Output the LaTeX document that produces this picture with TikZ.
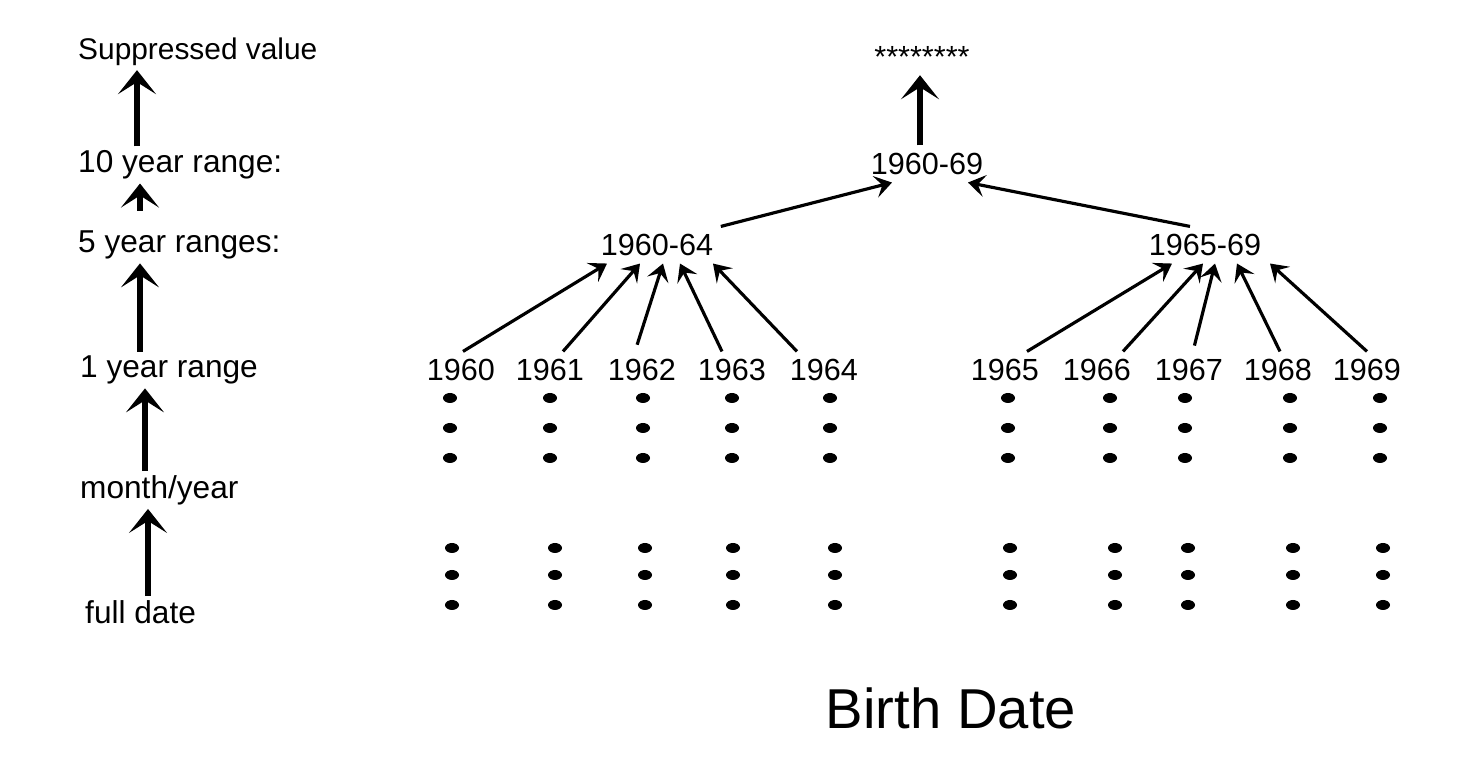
\documentclass[tikz,border=0pt]{standalone}
\usepackage{fontspec}
\setmainfont{Liberation Sans}
\usetikzlibrary{arrows.meta,positioning}

\begin{document}
\begin{tikzpicture}[
    lvl/.style={anchor=west, font=\fontsize{9}{10}\selectfont, inner sep=1pt},
    yr/.style={font=\fontsize{8.7}{10}\selectfont, inner sep=2pt},
    lvlarrow/.style={-{Stealth[length=2.4mm, width=3.8mm, inset=1.2mm]}, line width=1.7pt},
    treearrow/.style={-{Stealth[length=1.7mm, width=2.2mm, inset=0.7mm]}, line width=0.9pt},
    dot/.style={fill=black}
]
    \useasboundingbox (0,0) rectangle (14.77,-7.66);

    % Level labels
    \node[lvl, font=\fontsize{8.5}{10}\selectfont] (lvlsup) at (0.74,-0.52) {Suppressed value};
    \node[lvl] (lvlten) at (0.74,-1.65) {10 year range:};
    \node[lvl] (lvlfive) at (0.74,-2.45) {5 year ranges:};
    \node[lvl] (lvlone) at (0.76,-3.70) {1 year range};
    \node[lvl] (lvlmonth) at (0.76,-4.90) {month/year};
    \node[lvl] (lvlfull) at (0.81,-6.12) {full date};

    % Level arrows
    \draw[lvlarrow] ([xshift=6.3mm]lvlten.north west) -- ([xshift=6.3mm]lvlten.north west |- lvlsup.south);
    \draw[lvlarrow] ([xshift=6.6mm,yshift=1.6mm]lvlfive.north west) -- ([xshift=6.6mm]lvlfive.north west |- lvlten.south);
    \draw[lvlarrow] ([xshift=6.4mm]lvlone.north west) -- ([xshift=6.4mm]lvlone.north west |- lvlfive.south);
    \draw[lvlarrow] ([xshift=6.9mm]lvlmonth.north west) -- ([xshift=6.9mm]lvlmonth.north west |- lvlone.south);
    \draw[lvlarrow] ([xshift=6.7mm]lvlfull.north west) -- ([xshift=6.7mm]lvlfull.north west |- lvlmonth.south);

    % Hierarchy
    \node[yr] (stars) at (9.22,-0.57) {********};
    \node[yr] (g6069) at (9.27,-1.64) {1960-69};
    \node[yr] (g6064) at (6.57,-2.45) {1960-64};
    \node[yr] (g6569) at (12.05,-2.45) {1965-69};
    \foreach \yr/\xx in {1960/4.61, 1961/5.50, 1962/6.42, 1963/7.32, 1964/8.24,
                         1965/10.05, 1966/10.97, 1967/11.89, 1968/12.78, 1969/13.67}
        \node[yr] (y\yr) at (\xx,-3.70) {\yr};

    % Tree arrows
    \draw[lvlarrow] ([xshift=-0.7mm]g6069.north) -- ([xshift=-0.7mm]g6069.north |- stars.south);
    \draw[treearrow] (g6064.north east) -- ([xshift=-3.5mm]g6069.south);
    \draw[treearrow] ([xshift=-1.5mm]g6569.north) -- ([xshift=4.1mm]g6069.south);
    \foreach \yr/\grp/\fx/\tx/\sh in {1960/g6064/0.02/-0.50/0, 1961/g6064/0.13/-0.17/0,
                                      1962/g6064/-0.07/0.06/0.7, 1963/g6064/-0.10/0.23/0,
                                      1964/g6064/-0.27/0.56/0, 1965/g6569/0.22/-0.33/0,
                                      1966/g6569/0.26/-0.02/0, 1967/g6569/0.04/0.10/0.6,
                                      1968/g6569/0.02/0.32/0, 1969/g6569/0.00/0.65/0}
        \draw[treearrow, shorten <=\sh mm] ([xshift=\fx cm]y\yr.north) -- ([xshift=\tx cm]\grp.south);

    % Dots
    \foreach \ux/\lx in {4.50/4.52, 5.50/5.55, 6.43/6.45, 7.32/7.33, 8.30/8.35,
                         10.08/10.10, 11.10/11.15, 11.85/11.88, 12.90/12.93, 13.80/13.83} {
        \foreach \ry in {3.98, 4.28, 4.58}
            \fill[dot] (\ux,-\ry) ellipse (0.07 and 0.05);
        \foreach \ry in {5.48, 5.75, 6.05}
            \fill[dot] (\lx,-\ry) ellipse (0.07 and 0.05);
    }

    % Caption
    \node[font=\fontsize{16}{18}\selectfont] (caption) at (9.51,-7.08) {Birth Date};
\end{tikzpicture}
\end{document}
